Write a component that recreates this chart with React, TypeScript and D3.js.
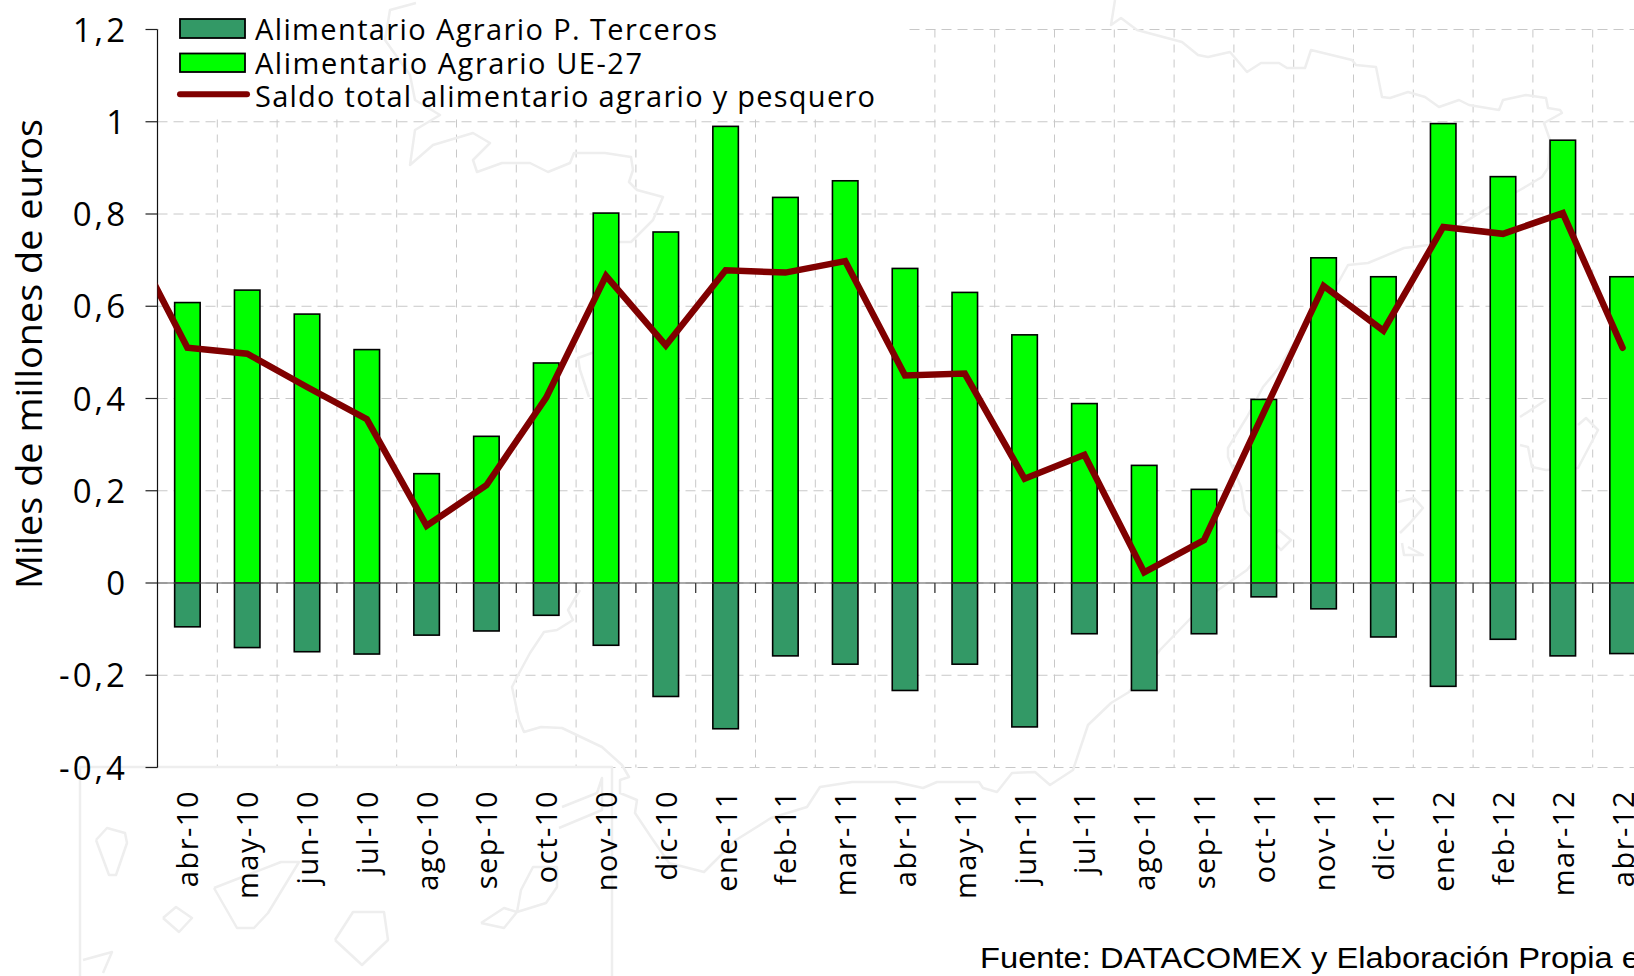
import React from "react";
import * as d3 from "d3";

const categories = ["abr-10","may-10","jun-10","jul-10","ago-10","sep-10","oct-10","nov-10","dic-10","ene-11","feb-11","mar-11","abr-11","may-11","jun-11","jul-11","ago-11","sep-11","oct-11","nov-11","dic-11","ene-12","feb-12","mar-12","abr-12"];
const ue27 = [0.608,0.635,0.583,0.506,0.237,0.318,0.477,0.802,0.761,0.99,0.836,0.872,0.682,0.63,0.538,0.389,0.255,0.203,0.398,0.705,0.664,0.996,0.881,0.96,0.664];
const terceros = [-0.095,-0.14,-0.149,-0.154,-0.113,-0.104,-0.07,-0.135,-0.246,-0.316,-0.158,-0.176,-0.233,-0.176,-0.312,-0.11,-0.233,-0.11,-0.03,-0.056,-0.117,-0.224,-0.122,-0.158,-0.153];
const saldo = [0.51,0.497,0.425,0.355,0.124,0.212,0.402,0.666,0.515,0.678,0.673,0.698,0.45,0.454,0.226,0.278,0.023,0.093,0.37,0.644,0.547,0.772,0.757,0.802,0.51];
const saldoPrevio = 0.76; // mar-10, outside the plotted window
const yTicks = [1.2,1,0.8,0.6,0.4,0.2,0,-0.2,-0.4];
const yTickLabels = ["1,2","1","0,8","0,6","0,4","0,2","0","-0,2","-0,4"];
const legendLabels = ["Alimentario Agrario P. Terceros","Alimentario Agrario UE-27","Saldo total alimentario agrario y pesquero"];
const yTitle = "Miles de millones de euros";
const source = "Fuente: DATACOMEX y Elaboración Propia en";

type P = [number, number];
// Faint background map of Spain (decorative watermark)
const coastNorth: P[] = [[416,3],[390,10],[385,40],[410,75],[415,100],[440,115],[415,130],[410,165],[433,145],[473,133],[490,143],[473,160],[477,172],[502,163],[530,163],[548,172],[570,163],[574,153],[605,153],[631,157],[633,170],[629,182],[637,190],[663,197],[653,220],[631,242],[612,242]];
const portugalBorder: P[] = [[600,350],[578,358],[580,370],[589,397]];
const coastSouth: P[] = [[580,590],[568,610],[573,620],[557,630],[544,632],[530,653],[517,677],[512,687],[519,720],[524,732],[541,727],[562,728],[602,747],[622,765],[629,777],[620,780],[620,793],[637,800],[635,813],[651,837],[669,863],[704,872],[736,840],[771,818],[807,807],[820,787],[852,782],[896,782],[923,788],[937,782],[979,782],[983,788],[997,792],[1012,773],[1035,772],[1050,785],[1073,770],[1088,725],[1111,703],[1129,692],[1160,650],[1218,590],[1247,570],[1270,540],[1279,530],[1291,540],[1281,550],[1245,510],[1241,487],[1228,457],[1228,448],[1247,417],[1263,387],[1279,368],[1320,300],[1338,283],[1348,265],[1368,263],[1404,248],[1429,245],[1465,222],[1489,207],[1520,190],[1542,177],[1548,168],[1550,140],[1544,123],[1562,113],[1560,110],[1548,108],[1546,98],[1526,95],[1503,100],[1499,110],[1469,105],[1459,100],[1439,107],[1425,97],[1408,92],[1390,98],[1382,97],[1376,67],[1356,65],[1352,60],[1311,50],[1305,68],[1287,68],[1279,63],[1261,63],[1247,72],[1230,52],[1208,57],[1198,55],[1182,42],[1137,30],[1121,18],[1111,25],[1115,0]];
const islands: P[][] = [
  [[1520,417],[1546,400]],
  [[1520,445],[1528,447],[1532,467],[1546,470],[1578,468],[1598,430],[1586,418],[1578,425]],
  [[1398,502],[1414,498],[1423,508],[1410,523],[1400,533]],
  [[1402,543],[1404,555],[1423,555],[1408,547]],
  [[96,840],[107,828],[125,833],[127,843],[116,875],[109,875],[96,840]],
  [[163,918],[176,907],[192,918],[179,932],[163,918]],
  [[214,888],[281,862],[299,862],[268,913],[254,928],[237,928],[214,888]],
  [[335,940],[353,912],[384,912],[388,940],[362,965],[335,940]],
  [[83,960],[112,952],[103,973]],
  [[481,923],[504,928],[517,912],[546,903],[557,887],[557,867],[533,867],[521,890],[517,912],[504,908],[481,923]],
  [[562,807],[597,793],[602,778],[602,810],[559,828]],
];
const insetBox: P[] = [[80,976],[80,767],[612,767],[612,976]];

const FONT = "'Open Sans', sans-serif";

export default function App() {
  const left = 157.5, step = 59.8;
  const x = d3.scaleBand<string>().domain(categories).range([left, left + step * categories.length]).padding(0);
  const y = d3.scaleLinear().domain([-0.4, 1.2]).range([767.5, 29.5]);
  const barW = 25.5;
  const cx = (c: string) => (x(c) as number) + x.bandwidth() / 2;
  const line = d3.line<number>().x((_, i) => (i === 0 ? cx(categories[0]) - step : cx(categories[i - 1]))).y((d) => y(d));
  const mapLine = d3.line<P>().x((d) => d[0]).y((d) => d[1]).curve(d3.curveLinear);
  const edges = categories.map((c) => x(c) as number).slice(1).concat([left + step * categories.length]);
  const mapPaths = [coastNorth, portugalBorder, coastSouth, insetBox, ...islands];

  return (
    <svg width={1634} height={976} viewBox="0 0 1634 976" style={{ position: "fixed", left: 0, top: 0, background: "#fff" }}>
      <defs>
        <clipPath id="plot"><rect x={left} y={0} width={1634 - left} height={976} /></clipPath>
      </defs>
      {yTicks.map((t) => (
        <line key={t} x1={left} x2={1634} y1={y(t)} y2={y(t)} stroke="#c8c8c8" strokeWidth={1} strokeDasharray="10 6" />
      ))}
      {edges.map((e) => (
        <line key={e} x1={e} x2={e} y1={y(1.2)} y2={y(-0.4)} stroke="#c8c8c8" strokeWidth={1} strokeDasharray="8 7" />
      ))}
      <rect x={left + 1} y={0} width={750} height={118} fill="#fff" />
      {mapPaths.map((p, i) => (
        <path key={i} d={mapLine(p) as string} fill="none" stroke="#eeeeee" strokeWidth={2.5} strokeLinejoin="round" />
      ))}
      {categories.map((c, i) => (
        <g key={c}>
          <rect x={cx(c) - barW / 2} y={y(ue27[i])} width={barW} height={y(0) - y(ue27[i])} fill="#00ff00" stroke="#000" strokeWidth={1.6} />
          <rect x={cx(c) - barW / 2} y={y(0)} width={barW} height={y(terceros[i]) - y(0)} fill="#339966" stroke="#000" strokeWidth={1.6} />
        </g>
      ))}
      <line x1={left} x2={1634} y1={y(0)} y2={y(0)} stroke="#555" strokeWidth={1.2} />
      {edges.map((e) => (
        <line key={e} x1={e} x2={e} y1={y(0)} y2={y(0) + 10} stroke="#333" strokeWidth={1.2} />
      ))}
      <line x1={left} x2={left} y1={y(1.2)} y2={y(-0.4)} stroke="#111" strokeWidth={1.2} />
      {yTicks.map((t) => (
        <line key={t} x1={145.5} x2={left} y1={y(t)} y2={y(t)} stroke="#222" strokeWidth={1.2} />
      ))}
      <path d={line([saldoPrevio, ...saldo]) as string} fill="none" stroke="#800000" strokeWidth={6.5} strokeLinejoin="miter" strokeLinecap="round" clipPath="url(#plot)" />
      {yTicks.map((t, i) => (
        <text key={t} x={128} y={y(t) + 12} textAnchor="end" fontFamily={FONT} fontSize={33} letterSpacing={3} fill="#000">{yTickLabels[i]}</text>
      ))}
      {categories.map((c) => (
        <text key={c} transform={`translate(${cx(c) + 11},790) rotate(-90)`} textAnchor="end" fontFamily={FONT} fontSize={29} letterSpacing={1.5} fill="#000">{c}</text>
      ))}
      <text transform="translate(42,589) rotate(-90)" fontFamily={FONT} fontSize={37} textLength={470} lengthAdjust="spacingAndGlyphs" fill="#000">{yTitle}</text>
      <rect x={180} y={19} width={65} height={19} fill="#339966" stroke="#000" strokeWidth={1.8} />
      <rect x={180} y={53.5} width={65} height={18.5} fill="#00ff00" stroke="#000" strokeWidth={1.8} />
      <line x1={180} x2={247} y1={94.3} y2={94.3} stroke="#800000" strokeWidth={6} strokeLinecap="round" />
      {legendLabels.map((l, i) => (
        <text key={l} x={255} y={[40, 74, 106.5][i]} fontFamily={FONT} fontSize={29} textLength={[462, 387, 620][i]} lengthAdjust="spacing" fill="#000">{l}</text>
      ))}
      <text transform="translate(980,968) scale(1.09,1)" fontFamily="'Liberation Sans', Arial, sans-serif" fontSize={30} fill="#000">{source}</text>
    </svg>
  );
}
